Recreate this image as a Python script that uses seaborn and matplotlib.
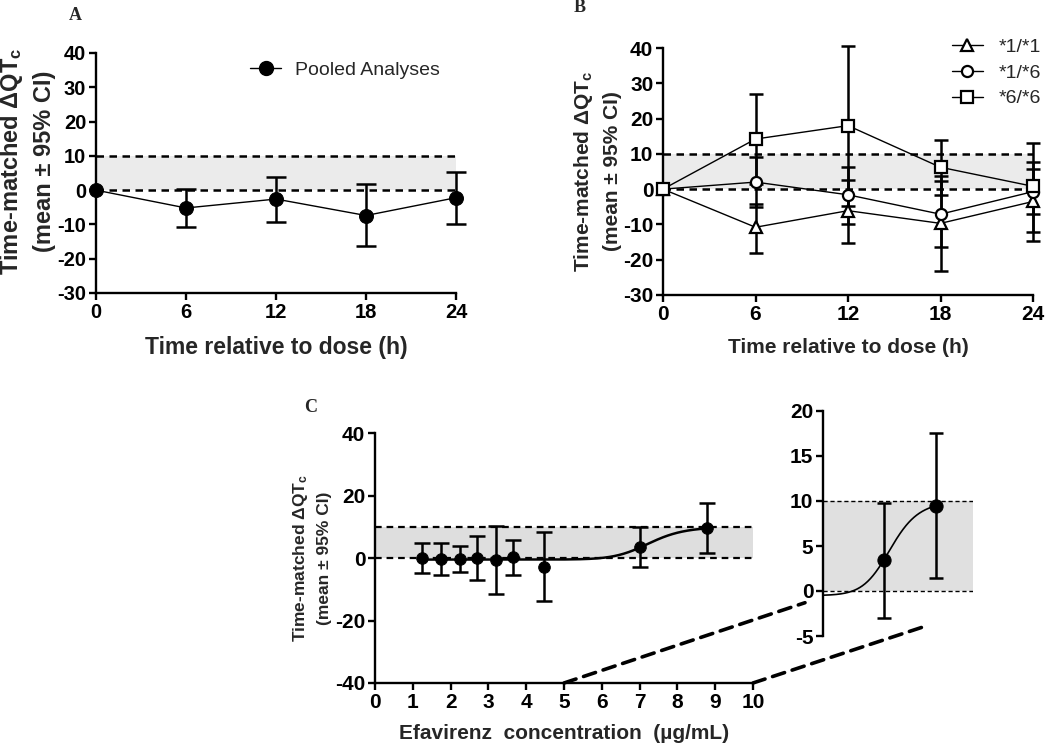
import numpy as np
import pandas as pd
import matplotlib
matplotlib.use("Agg")
import matplotlib.pyplot as plt
import seaborn as sns
from matplotlib.lines import Line2D
from matplotlib.patches import ConnectionPatch

# ---------------- data ----------------
time_h = [0, 6, 12, 18, 24]

pooled_mean = [0.0, -5.2, -2.6, -7.4, -2.2]
pooled_lo = [0.0, -10.7, -9.3, -16.4, -9.8]
pooled_hi = [0.0, 0.3, 3.9, 1.8, 5.2]

g11_mean = [0.0, -10.8, -6.1, -9.7, -3.5]
g11_lo = [0.0, -18.1, -15.2, -23.3, -14.8]
g11_hi = [0.0, -4.1, 2.6, 3.6, 7.8]

g16_mean = [0.0, 2.0, -1.6, -7.1, -0.7]
g16_lo = [0.0, -5.2, -9.8, -16.5, -7.0]
g16_hi = [0.0, 9.0, 6.4, 2.4, 5.6]

g66_mean = [0.0, 14.2, 18.0, 6.2, 0.8]
g66_lo = [0.0, 1.4, -4.8, -1.7, -12.1]
g66_hi = [0.0, 27.0, 40.7, 14.0, 13.0]

conc = [1.24, 1.74, 2.25, 2.71, 3.20, 3.66, 4.46, 7.02, 8.78]
conc_mean = [0.0, -0.3, -0.3, 0.0, -0.5, 0.2, -2.9, 3.4, 9.5]
conc_lo = [-4.8, -5.3, -4.5, -6.9, -11.5, -5.3, -13.7, -3.0, 1.5]
conc_hi = [4.8, 4.8, 3.7, 6.9, 10.1, 5.9, 8.2, 9.8, 17.6]

# fitted Emax (Hill) model parameters
hill_e0 = -0.5
hill_emax = 10.5
hill_ec50 = 7.26
hill_n = 15.5

band_lo, band_hi = 0, 10

# ---------------- style ----------------
sns.set_theme(style="ticks")
plt.rcParams["font.family"] = ["Liberation Sans", "DejaVu Sans"]
plt.rcParams["font.weight"] = "bold"
plt.rcParams["axes.unicode_minus"] = False
plt.rcParams["mathtext.fontset"] = "custom"
plt.rcParams["mathtext.rm"] = "Liberation Sans:bold"
plt.rcParams["mathtext.default"] = "rm"

fig = plt.figure(figsize=(10.5, 7.45), dpi=100)

def fpos(l, r, t, b):
    W, H = 1050, 745
    return [l / W, 1 - b / H, (r - l) / W, (b - t) / H]

axA = fig.add_axes(fpos(96, 456, 53, 293))
axB = fig.add_axes(fpos(663, 1033, 48, 295))
axC = fig.add_axes(fpos(375, 753, 433, 683))
axI = fig.add_axes(fpos(823, 973, 411, 636))

SP = 1.7
TICKFS = 15

def style_axes(ax, fs=TICKFS):
    sns.despine(ax=ax)
    for s in ["left", "bottom"]:
        ax.spines[s].set_linewidth(SP)
        ax.spines[s].set_color("black")
    ax.tick_params(direction="out", length=5, width=SP, colors="black",
                   labelsize=fs, pad=2)
    for lab in ax.get_xticklabels() + ax.get_yticklabels():
        lab.set_fontweight("bold")

ylab_main = "Time-matched \u0394QT$_{c}$\n(mean \u00b1 95% CI)"

# ---------------- Panel A ----------------
def time_panel(ax, band_color):
    ax.set_xlim(0, 24)
    ax.set_ylim(-30, 40)
    ax.set_xticks(time_h)
    ax.set_yticks(range(-30, 41, 10))
    ax.fill_between([0, 24], band_lo, band_hi, color=band_color, lw=0, zorder=0)
    for yv in (band_lo, band_hi):
        ax.axhline(yv, color="black", lw=1.8, ls=(0, (3, 2.2)), zorder=1)

time_panel(axA, "#ebebeb")
dfA = pd.DataFrame({"t": time_h, "m": pooled_mean})
sns.lineplot(data=dfA, x="t", y="m", ax=axA, color="black", lw=1.0,
             marker="o", markersize=10, markeredgecolor="black",
             markerfacecolor="black", clip_on=False, zorder=5)
m = np.array(pooled_mean)
axA.errorbar(time_h[1:], m[1:],
             yerr=[m[1:] - np.array(pooled_lo[1:]), np.array(pooled_hi[1:]) - m[1:]],
             fmt="none", ecolor="black", elinewidth=1.8, capsize=7, capthick=1.8,
             zorder=4, clip_on=False)
style_axes(axA, 14.5)
axA.set_xlabel("Time relative to dose (h)", fontsize=16.5, fontweight="bold", labelpad=10)
axA.set_ylabel(ylab_main, fontsize=17, fontweight="bold", linespacing=1.4)
axA.yaxis.set_label_coords(-0.112, 0.55)
hA = [Line2D([0], [0], color="black", lw=1.0, marker="o", markersize=10,
             markerfacecolor="black")]
axA.legend(hA, ["Pooled Analyses"], loc="upper left", bbox_to_anchor=(0.38, 1.04),
           frameon=False, handlelength=1.6, handletextpad=0.7,
           prop={"size": 14, "weight": "normal"})

# ---------------- Panel B ----------------
time_panel(axB, "#ebebeb")
series = [("*1/*1", "^", g11_mean, g11_lo, g11_hi),
          ("*1/*6", "o", g16_mean, g16_lo, g16_hi),
          ("*6/*6", "s", g66_mean, g66_lo, g66_hi)]
handles = []
for name, mk, mean, lo, hi in series:
    mm = np.array(mean)
    axB.errorbar(time_h[1:], mm[1:],
                 yerr=[mm[1:] - np.array(lo[1:]), np.array(hi[1:]) - mm[1:]],
                 fmt="none", ecolor="black", elinewidth=1.8, capsize=5, capthick=1.8,
                 zorder=3, clip_on=False)
    dfB = pd.DataFrame({"t": time_h, "m": mean})
    sns.lineplot(data=dfB, x="t", y="m", ax=axB, color="black", lw=1.0,
                 marker=mk, markersize=8, markeredgecolor="black",
                 markerfacecolor="white", markeredgewidth=1.6,
                 clip_on=False, zorder=5)
    handles.append(Line2D([0], [0], color="black", lw=1.0, marker=mk, markersize=8,
                          markerfacecolor="white", markeredgewidth=1.6))
style_axes(axB)
axB.set_xlabel("Time relative to dose (h)", fontsize=15, fontweight="bold", labelpad=10)
axB.set_ylabel(ylab_main, fontsize=15, fontweight="bold", linespacing=1.5)
axB.yaxis.set_label_coords(-0.112, 0.5)
axB.legend(handles, [s[0] for s in series], loc="upper right",
           bbox_to_anchor=(1.068, 1.11), frameon=False, handlelength=1.6,
           handletextpad=0.8, labelspacing=0.42,
           prop={"size": 14, "weight": "normal"})

# ---------------- Panel C ----------------
def hill(x):
    x = np.asarray(x, dtype=float)
    return hill_e0 + hill_emax * x ** hill_n / (hill_ec50 ** hill_n + x ** hill_n)

axC.set_xlim(0, 10)
axC.set_ylim(-40, 40)
axC.set_xticks(range(0, 11))
axC.set_yticks([-40, -20, 0, 20, 40])
axC.fill_between([0, 10], band_lo, band_hi, color="#dedede", lw=0, zorder=0)
for yv in (band_lo, band_hi):
    axC.axhline(yv, color="black", lw=1.6, ls=(0, (3, 2.2)), zorder=1)
xc = np.linspace(conc[0], conc[-1], 300)
sns.lineplot(x=xc, y=hill(xc), ax=axC, color="black", lw=1.8, zorder=3)
cm = np.array(conc_mean)
axC.errorbar(conc, cm, yerr=[cm - np.array(conc_lo), np.array(conc_hi) - cm],
             fmt="none", ecolor="black", elinewidth=1.8, capsize=5.5, capthick=1.8,
             zorder=4)
sns.scatterplot(x=conc, y=conc_mean, ax=axC, color="black", s=70,
                edgecolor="black", zorder=5)
style_axes(axC)
axC.set_xlabel("Efavirenz  concentration  (\u00b5g/mL)", fontsize=15,
               fontweight="bold", labelpad=9)
axC.set_ylabel(ylab_main, fontsize=12.5, fontweight="bold", linespacing=1.55)
axC.yaxis.set_label_coords(-0.114, 0.5)

# ---------------- Inset ----------------
axI.set_xlim(5, 10)
axI.set_ylim(-5, 20)
axI.set_yticks([-5, 0, 5, 10, 15, 20])
axI.fill_between([5, 10], band_lo, band_hi, color="#e0e0e0", lw=0, zorder=0)
for yv in (band_lo, band_hi):
    axI.axhline(yv, color="black", lw=1.0, ls=(0, (3, 2)), zorder=1)
xi = np.linspace(5, conc[-1], 300)
sns.lineplot(x=xi, y=hill(xi), ax=axI, color="black", lw=1.2, zorder=3)
sel = [i for i, c in enumerate(conc) if c >= 5]
im = cm[sel]
axI.errorbar(np.array(conc)[sel], im,
             yerr=[im - np.array(conc_lo)[sel], np.array(conc_hi)[sel] - im],
             fmt="none", ecolor="black", elinewidth=1.8, capsize=5, capthick=1.8,
             zorder=4)
sns.scatterplot(x=np.array(conc)[sel], y=im, ax=axI, color="black", s=90,
                edgecolor="black", zorder=5)
sns.despine(ax=axI, bottom=True)
axI.spines["left"].set_linewidth(SP)
axI.spines["left"].set_color("black")
axI.tick_params(axis="y", direction="out", length=5, width=SP, labelsize=TICKFS,
                pad=2, colors="black")
axI.tick_params(axis="x", bottom=False, labelbottom=False)
for lab in axI.get_yticklabels():
    lab.set_fontweight("bold")
axI.patch.set_alpha(0)

# zoom connectors
for xyA, xyB in [((5, -40), (4.4, -1.3)), ((10, -40), (8.33, -4.0))]:
    con = ConnectionPatch(xyA=xyA, coordsA=axC.transData, xyB=xyB,
                          coordsB=axI.transData, color="black", lw=2.6,
                          ls=(0, (3.5, 2.2)))
    fig.add_artist(con)

# panel letters
for txt, x, y in [("A", 75, 15), ("B", 580, 8), ("C", 311, 407)]:
    fig.text(x / 1050, 1 - y / 745, txt, fontsize=13, fontweight="bold",
             family=["Liberation Serif", "DejaVu Serif"], ha="center", va="center")

fig.savefig("out.png", dpi=100)
